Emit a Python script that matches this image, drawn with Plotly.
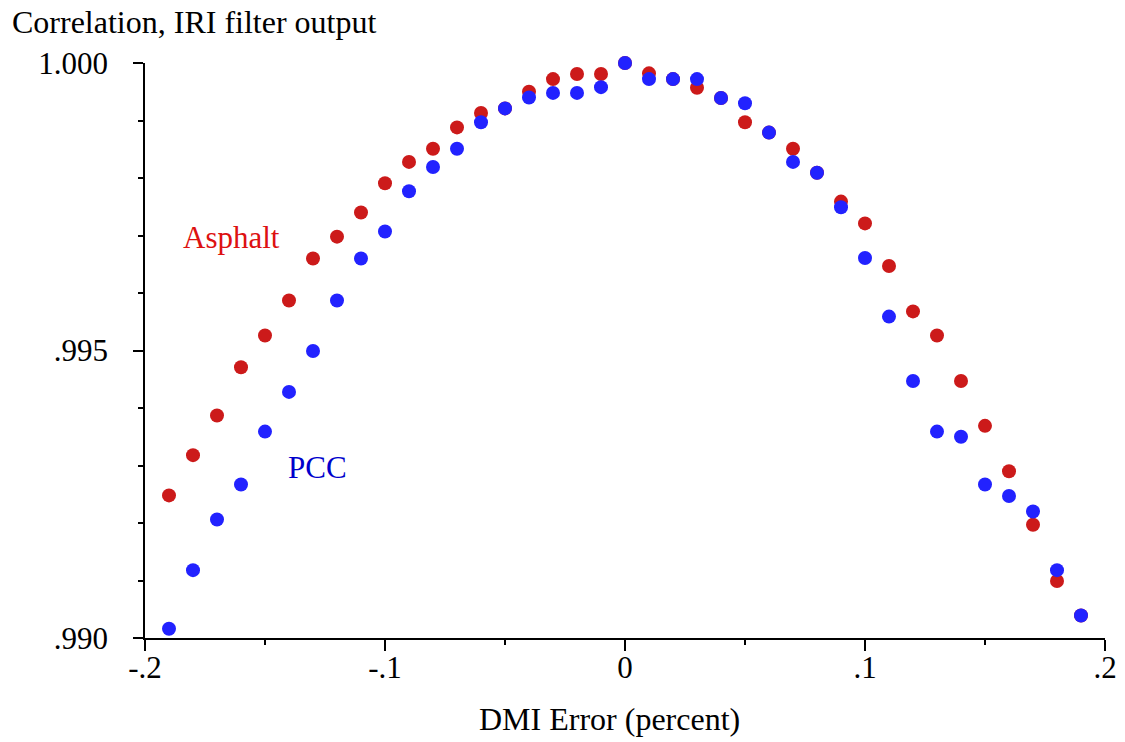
import plotly.graph_objects as go

dmi_error = [-0.19, -0.18, -0.17, -0.16, -0.15, -0.14, -0.13, -0.12, -0.11, -0.10,
             -0.09, -0.08, -0.07, -0.06, -0.05, -0.04, -0.03, -0.02, -0.01, 0.00,
             0.01, 0.02, 0.03, 0.04, 0.05, 0.06, 0.07, 0.08, 0.09, 0.10,
             0.11, 0.12, 0.13, 0.14, 0.15, 0.16, 0.17, 0.18, 0.19]

asphalt = [0.99248, 0.99318, 0.99387, 0.99471, 0.99526, 0.99587, 0.99660, 0.99698, 0.99740, 0.99791,
           0.99828, 0.99851, 0.99888, 0.99913, 0.99921, 0.99950, 0.99972, 0.99981, 0.99981, 1.00000,
           0.99982, 0.99972, 0.99957, 0.99939, 0.99897, 0.99879, 0.99851, 0.99809, 0.99759, 0.99721,
           0.99647, 0.99568, 0.99526, 0.99447, 0.99369, 0.99290, 0.99197, 0.99099, 0.99039]

pcc = [0.99016, 0.99118, 0.99206, 0.99267, 0.99359, 0.99428, 0.99499, 0.99587, 0.99660, 0.99707,
       0.99777, 0.99819, 0.99851, 0.99897, 0.99921, 0.99940, 0.99948, 0.99948, 0.99958, 1.00000,
       0.99972, 0.99972, 0.99972, 0.99939, 0.99930, 0.99879, 0.99828, 0.99809, 0.99749, 0.99661,
       0.99559, 0.99447, 0.99359, 0.99350, 0.99267, 0.99247, 0.99220, 0.99118, 0.99039]

x_tickvals = [-0.2, -0.1, 0.0, 0.1, 0.2]
x_ticktext = ["-.2", "-.1", "0", ".1", ".2"]
x_minor = [-0.15, -0.05, 0.05, 0.15]
y_tickvals = [0.990, 0.995, 1.000]
y_ticktext = [".990", ".995", "1.000"]
y_minor = [0.991, 0.992, 0.993, 0.994, 0.996, 0.997, 0.998, 0.999]

FONT = "Liberation Serif, Times New Roman, serif"
RED = "#cc1a1a"
BLUE = "#2222ff"
TICK_SIZE = 31
TITLE_SIZE = 32

fig = go.Figure()
fig.add_trace(go.Scatter(x=dmi_error, y=asphalt, mode="markers", name="Asphalt",
                         marker=dict(color=RED, size=14, line=dict(width=0)),
                         cliponaxis=False))
fig.add_trace(go.Scatter(x=dmi_error, y=pcc, mode="markers", name="PCC",
                         marker=dict(color=BLUE, size=14, line=dict(width=0)),
                         cliponaxis=False))

fig.update_layout(
    width=1125, height=742,
    margin=dict(l=145, r=20, t=63, b=104),
    paper_bgcolor="white", plot_bgcolor="white",
    showlegend=False,
    font=dict(family=FONT, size=TICK_SIZE, color="black"),
    xaxis=dict(range=[-0.2, 0.2], tickmode="array", tickvals=x_tickvals, ticktext=x_ticktext,
               ticks="outside", ticklen=11, tickwidth=1.5, tickcolor="black",
               showline=True, linecolor="black", linewidth=1.5, automargin=False,
               showgrid=False, zeroline=False, ticklabelstandoff=-10,
               minor=dict(tickmode="array", tickvals=x_minor, ticks="outside", ticklen=5,
                          tickwidth=1.5, tickcolor="black", showgrid=False),
               tickfont=dict(family=FONT, size=TICK_SIZE, color="black")),
    yaxis=dict(range=[0.990, 1.000], tickmode="array", tickvals=y_tickvals, ticktext=y_ticktext,
               ticks="outside", ticklen=10, tickwidth=1.5, tickcolor="black",
               showline=True, linecolor="black", linewidth=1.5, automargin=False,
               showgrid=False, zeroline=False, ticklabelstandoff=19,
               minor=dict(tickmode="array", tickvals=y_minor, ticks="outside", ticklen=5,
                          tickwidth=1.5, tickcolor="black", showgrid=False),
               tickfont=dict(family=FONT, size=TICK_SIZE, color="black")),
    annotations=[
        dict(text="Correlation, IRI filter output", xref="paper", yref="paper",
             x=-0.1406, y=1.0713, xanchor="left", yanchor="middle", showarrow=False,
             font=dict(family=FONT, size=TITLE_SIZE, color="black")),
        dict(text="DMI Error (percent)", xref="paper", yref="paper",
             x=0.484, y=-0.1409, xanchor="center", yanchor="middle", showarrow=False,
             font=dict(family=FONT, size=TITLE_SIZE, color="black")),
        dict(text="Asphalt", xref="x", yref="y", x=-0.164, y=0.99697,
             xanchor="center", yanchor="middle", showarrow=False,
             font=dict(family=FONT, size=TICK_SIZE, color="#dd1111")),
        dict(text="PCC", xref="x", yref="y", x=-0.128, y=0.99296,
             xanchor="center", yanchor="middle", showarrow=False,
             font=dict(family=FONT, size=TICK_SIZE, color="#0000cc")),
    ],
)

fig.write_html("out.html", config={"displayModeBar": False},
               post_script="document.body.style.margin='0';document.body.style.overflow='hidden';")
